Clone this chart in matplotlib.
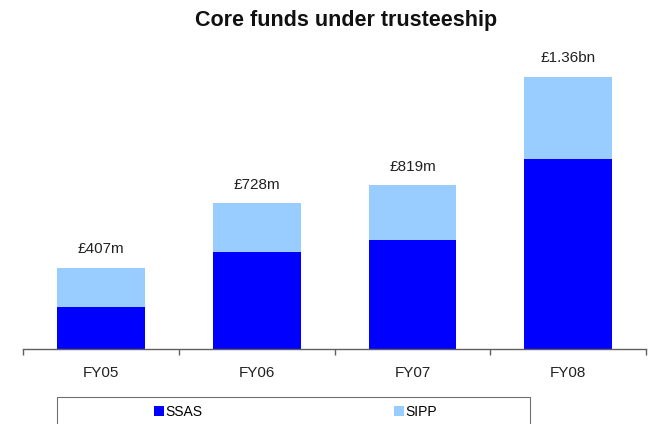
import numpy as np
import matplotlib.pyplot as plt
from matplotlib.patches import Rectangle

plt.rcParams['font.family'] = ['Liberation Sans', 'DejaVu Sans']

# core funds under trusteeship, £m
years = ["FY05", "FY06", "FY07", "FY08"]
ssas = [210, 485, 543, 950]
sipp = [197, 243, 276, 410]
total_labels = ["£407m", "£728m", "£819m", "£1.36bn"]

ssas_color = "#0000FF"
sipp_color = "#99CCFF"

fig = plt.figure(figsize=(6.52, 4.24), dpi=100)
ax = fig.add_axes([23.3 / 652, 75 / 424, (646 - 23.3) / 652, 280 / 424])

x = np.arange(len(years))
totals = np.array(ssas) + np.array(sipp)
b1 = ax.bar(x, ssas, width=0.565, color=ssas_color, label="SSAS")
b2 = ax.bar(x, sipp, width=0.565, bottom=ssas, color=sipp_color, label="SIPP")

for xi, tot, lab in zip(x, totals, total_labels):
    ax.annotate(lab, (xi, tot), xytext=(0, 10.5), textcoords="offset points",
                ha="center", va="baseline", fontsize=11, color="#222222")

ax.set_xlim(-0.5, len(years) - 0.5)
ax.set_ylim(0, 1400)
ax.set_yticks([])
for side in ["top", "right", "left"]:
    ax.spines[side].set_visible(False)
ax.spines["bottom"].set_color("#606060")
ax.spines["bottom"].set_linewidth(1)

# category labels in the middle, tick marks between categories
ax.set_xticks(x)
ax.set_xticklabels(years, fontsize=11, color="#222222")
ax.tick_params(axis="x", which="major", length=0, pad=12)
ax.set_xticks(np.arange(-0.5, len(years)), minor=True)
ax.tick_params(axis="x", which="minor", length=4, width=1, color="#606060", direction="out")

fig.text(346 / 652, 1 - 26 / 424, "Core funds under trusteeship", ha="center",
         va="baseline", fontsize=15.5, fontweight="bold", color="#111111")

# legend box runs off the bottom edge
fig.patches.append(Rectangle((57.3 / 652, -0.1), (530 - 57.3) / 652, (424 - 396.7) / 424 + 0.1,
                             transform=fig.transFigure, fill=False, edgecolor="#707070",
                             linewidth=0.8, clip_on=False))
fig.legend(handles=[b1, b2], labels=["SSAS", "SIPP"], ncol=2, frameon=False,
           loc="center left", bbox_to_anchor=(154 / 652, 1 - 412 / 424),
           fontsize=10, handlelength=0.7, handleheight=0.7, handletextpad=0.1,
           columnspacing=13.8, borderpad=0, borderaxespad=0)

fig.savefig("out.png", dpi=100)
